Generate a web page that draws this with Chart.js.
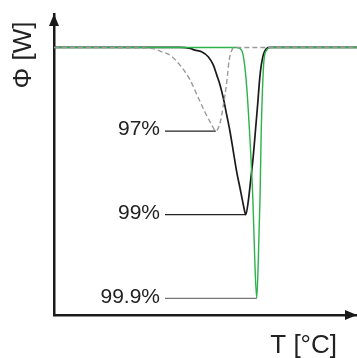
<!DOCTYPE html>
<html>
<head>
<meta charset="utf-8">
<script src="https://cdn.jsdelivr.net/npm/chart.js@4"></script>
<style>
  html, body { margin: 0; padding: 0; background: #fff; }
  canvas { display: block; }
</style>
</head>
<body>
<canvas id="dscChart" width="357" height="358"></canvas>
<script>
// temperature axis (arbitrary units) and heat flow readings for each purity
const temp97 = [0, 30.0, 33.3, 35.0, 38.3, 41.6, 44.9, 47.5, 49.8, 52.1, 53.4, 54.8, 55.8, 57.1, 57.8, 58.7, 59.4, 100];
const flow97 = [0, -0.2, -0.5, -1.1, -2.3, -5.3, -9.7, -14.8, -19.3, -23.2, -25.0, -22.6, -17.8, -9.7, -3.8, -0.8, 0, 0];

const temp99 = [0, 41.6, 44.9, 46.5, 48.7, 50.9, 52.6, 53.7, 54.8, 55.9, 57.0, 58.1, 59.2, 60.3, 61.4, 62.5, 63.3, 64.1, 64.9, 65.8, 66.5, 67.2, 68.0, 68.9, 70.2, 71.3, 100];
const flow99 = [0, 0, -0.3, -0.8, -1.3, -2.8, -5.3, -8.2, -11.2, -15.2, -20.2, -25.2, -31.2, -37.2, -42.1, -47.1, -50.0, -46.1, -39.7, -32.2, -24.7, -17.2, -8.3, -2.9, -0.3, 0, 0];

const temp999 = [0, 60.3, 61.9, 62.7, 63.6, 64.5, 65.6, 66.3, 66.9, 67.4, 68.0, 68.4, 68.8, 69.3, 70.2, 71.3, 100];
const flow999 = [0, 0, -0.8, -3.8, -11.8, -24.7, -44.6, -64.5, -75.0, -64.5, -44.6, -24.7, -12.7, -3.8, -0.8, 0, 0];

const purityLabels = ['97%', '99.9%', '99%'];
const axisTitles = { x: 'T [°C]', y: 'Φ [W]' };

function toPoints(xs, ys) {
    return xs.map((x, i) => ({ x: x, y: ys[i] }));
}

// leader lines from each label to the minimum of its curve, plus axis arrows and titles
const annotate = {
    id: 'annotate',
    afterDatasetsDraw(chart) {
        const ctx = chart.ctx;
        const xs = chart.scales.x;
        const ys = chart.scales.y;
        const area = chart.chartArea;
        ctx.save();

        chart.data.datasets.forEach((ds, i) => {
            let low = ds.data[0];
            ds.data.forEach(p => { if (p.y < low.y) low = p; });
            const px = xs.getPixelForValue(low.x);
            const py = ys.getPixelForValue(low.y);
            ctx.strokeStyle = ds.leaderColor;
            ctx.lineWidth = 1.2;
            ctx.setLineDash([]);
            ctx.beginPath();
            ctx.moveTo(165, py);
            ctx.lineTo(px, py);
            ctx.stroke();

            ctx.fillStyle = '#222';
            ctx.font = '21px "Liberation Sans", Arial, sans-serif';
            ctx.textAlign = 'right';
            ctx.textBaseline = 'middle';
            ctx.fillText(purityLabels[i], 160, py - 1.5);
        });

        // arrow heads
        ctx.fillStyle = '#1a1a1a';
        ctx.beginPath();
        ctx.moveTo(area.left, area.top);
        ctx.lineTo(area.left - 5, area.top + 12);
        ctx.lineTo(area.left + 5, area.top + 12);
        ctx.closePath();
        ctx.fill();
        ctx.beginPath();
        ctx.moveTo(area.right, area.bottom);
        ctx.lineTo(area.right - 12, area.bottom - 5);
        ctx.lineTo(area.right - 12, area.bottom + 5);
        ctx.closePath();
        ctx.fill();

        // axis titles
        ctx.fillStyle = '#222';
        ctx.font = '26px "Liberation Sans", Arial, sans-serif';
        ctx.textAlign = 'right';
        ctx.textBaseline = 'alphabetic';
        ctx.fillText(axisTitles.x, 337, 353);

        ctx.translate(31, 55);
        ctx.rotate(-Math.PI / 2);
        ctx.textAlign = 'center';
        ctx.fillText(axisTitles.y, 0, 0);
        ctx.restore();
    }
};

const ctx = document.getElementById('dscChart').getContext('2d');
const dscChart = new Chart(ctx, {
    type: 'line',
    data: {
        datasets: [{
            data: toPoints(temp97, flow97),
            borderColor: '#9a9a9a',
            borderWidth: 1.4,
            borderDash: [5, 3],
            leaderColor: '#222'
        }, {
            data: toPoints(temp999, flow999),
            borderColor: '#2bb24c',
            borderWidth: 1.4,
            leaderColor: '#777'
        }, {
            data: toPoints(temp99, flow99),
            borderColor: '#1a1a1a',
            borderWidth: 1.7,
            leaderColor: '#222'
        }]
    },
    options: {
        responsive: false,
        animation: false,
        devicePixelRatio: 1,
        layout: { padding: { left: 54, top: 14, right: 0, bottom: 43 } },
        elements: {
            point: { radius: 0 },
            line: { cubicInterpolationMode: 'monotone', fill: false }
        },
        plugins: {
            legend: { display: false },
            tooltip: { enabled: false }
        },
        scales: {
            x: {
                type: 'linear',
                min: 0,
                max: 100,
                ticks: { display: false },
                grid: { display: false },
                border: { display: true, color: '#1a1a1a', width: 2.5 },
                afterFit(scale) { scale.height = 0; }
            },
            y: {
                type: 'linear',
                min: -80,
                max: 10,
                ticks: { display: false },
                grid: { display: false },
                border: { display: true, color: '#1a1a1a', width: 2.5 },
                afterFit(scale) { scale.width = 0; }
            }
        }
    },
    plugins: [annotate]
});
</script>
</body>
</html>
